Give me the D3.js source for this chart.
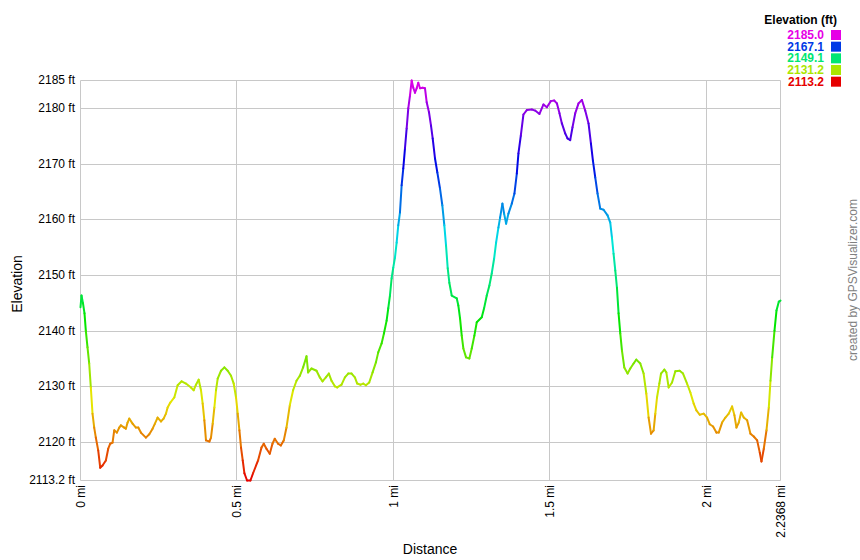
<!DOCTYPE html>
<html><head><meta charset="utf-8">
<script src="https://cdn.jsdelivr.net/npm/d3@7"></script>
<style>body{margin:0;background:#fff}svg{display:block;font-family:Arial,"Liberation Sans",sans-serif}</style>
</head><body><svg id="c" width="860" height="560"></svg>
<script>
const distance = [0, 0.0032, 0.008, 0.0128, 0.017, 0.0224, 0.0278, 0.033, 0.0384, 0.0438, 0.049, 0.0566, 0.063, 0.0704, 0.081, 0.0886, 0.095, 0.1024, 0.1078, 0.1162, 0.1238, 0.129, 0.1398, 0.145, 0.1504, 0.1558, 0.1664, 0.177, 0.1846, 0.193, 0.209, 0.2198, 0.2304, 0.2378, 0.2464, 0.257, 0.2656, 0.273, 0.2784, 0.287, 0.2998, 0.3104, 0.3232, 0.337, 0.353, 0.3616, 0.369, 0.3776, 0.385, 0.3904, 0.3958, 0.401, 0.4118, 0.417, 0.4224, 0.4278, 0.433, 0.4384, 0.449, 0.4598, 0.4704, 0.481, 0.4896, 0.497, 0.5024, 0.5078, 0.513, 0.5184, 0.5238, 0.5322, 0.543, 0.5514, 0.5674, 0.5782, 0.5856, 0.5942, 0.6048, 0.6134, 0.6208, 0.6314, 0.64, 0.6496, 0.6582, 0.6688, 0.6794, 0.6902, 0.7008, 0.7114, 0.7222, 0.7274, 0.7382, 0.7542, 0.7648, 0.7734, 0.784, 0.7936, 0.8022, 0.8128, 0.8202, 0.8342, 0.8448, 0.8554, 0.8662, 0.8768, 0.8842, 0.895, 0.9034, 0.912, 0.9226, 0.9334, 0.944, 0.9514, 0.9622, 0.9696, 0.9782, 0.9834, 0.9888, 0.9942, 0.9994, 1.0048, 1.0102, 1.0154, 1.0208, 1.0262, 1.0314, 1.0368, 1.0422, 1.0474, 1.0528, 1.0582, 1.0634, 1.0688, 1.0742, 1.0794, 1.0848, 1.0934, 1.1008, 1.1062, 1.1136, 1.12, 1.1254, 1.1328, 1.1402, 1.1488, 1.1562, 1.1626, 1.168, 1.1734, 1.1786, 1.1862, 1.2022, 1.2074, 1.2128, 1.2182, 1.2234, 1.232, 1.2426, 1.2502, 1.2586, 1.2662, 1.2822, 1.2896, 1.2982, 1.3066, 1.3142, 1.3216, 1.328, 1.3354, 1.3408, 1.3482, 1.3536, 1.36, 1.3674, 1.3782, 1.3866, 1.3942, 1.3994, 1.407, 1.4154, 1.4262, 1.4422, 1.4528, 1.4666, 1.4794, 1.4902, 1.503, 1.5136, 1.5222, 1.5306, 1.5382, 1.5488, 1.5562, 1.5648, 1.5722, 1.5808, 1.5914, 1.6022, 1.6128, 1.6234, 1.631, 1.6374, 1.6448, 1.6522, 1.6608, 1.6714, 1.6842, 1.6928, 1.6982, 1.7034, 1.7088, 1.7142, 1.7194, 1.7248, 1.7302, 1.7376, 1.7482, 1.7568, 1.7674, 1.776, 1.7888, 1.7994, 1.808, 1.8154, 1.823, 1.8314, 1.8368, 1.8422, 1.8496, 1.855, 1.8656, 1.872, 1.8794, 1.8902, 1.9008, 1.9146, 1.9254, 1.9382, 1.9488, 1.9594, 1.968, 1.9786, 1.9914, 2.0022, 2.0106, 2.0214, 2.032, 2.0394, 2.0502, 2.0608, 2.0714, 2.0822, 2.0896, 2.096, 2.1034, 2.111, 2.1194, 2.1302, 2.1408, 2.1514, 2.1622, 2.1706, 2.176, 2.1834, 2.192, 2.1994, 2.2048, 2.2102, 2.2176, 2.224, 2.2314, 2.2368];

const elevation = [2144.3, 2146.4, 2145.0, 2143.2, 2140.1, 2137.1, 2134.2, 2129.9, 2125.2, 2122.7, 2120.9, 2118.6, 2115.5, 2115.9, 2116.8, 2118.9, 2119.8, 2120.0, 2122.2, 2121.8, 2122.7, 2123.1, 2122.7, 2122.5, 2123.6, 2124.3, 2123.4, 2122.7, 2122.7, 2121.8, 2120.9, 2121.5, 2122.5, 2123.4, 2124.5, 2123.8, 2124.3, 2125.2, 2126.3, 2127.2, 2128.1, 2130.3, 2131.0, 2130.6, 2129.9, 2129.4, 2130.4, 2131.3, 2129.4, 2127.0, 2124.0, 2120.4, 2120.2, 2120.9, 2123.4, 2126.3, 2129.4, 2131.5, 2132.9, 2133.5, 2132.9, 2132.0, 2130.6, 2128.1, 2125.2, 2122.2, 2119.1, 2116.8, 2114.5, 2113.2, 2113.2, 2114.5, 2116.8, 2119.1, 2119.8, 2118.9, 2118.0, 2119.8, 2120.7, 2119.8, 2119.5, 2120.4, 2122.7, 2126.7, 2129.4, 2131.1, 2132.0, 2133.5, 2135.5, 2132.6, 2133.3, 2132.9, 2131.7, 2131.0, 2131.7, 2132.4, 2131.1, 2130.1, 2129.9, 2130.4, 2131.7, 2132.4, 2132.4, 2131.7, 2130.6, 2130.4, 2130.6, 2130.3, 2130.8, 2132.6, 2134.4, 2136.2, 2137.8, 2139.6, 2141.9, 2144.1, 2146.4, 2149.5, 2151.4, 2153.2, 2155.9, 2159.0, 2161.3, 2166.2, 2169.2, 2172.8, 2176.4, 2180.0, 2182.3, 2185.0, 2183.7, 2182.8, 2183.6, 2184.6, 2183.6, 2183.7, 2183.6, 2181.1, 2179.3, 2176.9, 2174.6, 2171.0, 2168.5, 2165.6, 2162.6, 2159.0, 2155.4, 2151.3, 2148.7, 2146.4, 2145.9, 2144.6, 2142.3, 2139.2, 2136.9, 2135.3, 2135.1, 2136.9, 2139.2, 2141.6, 2142.5, 2144.1, 2146.4, 2148.2, 2150.4, 2153.0, 2155.9, 2158.6, 2160.4, 2162.9, 2161.1, 2159.3, 2161.1, 2162.9, 2164.7, 2168.3, 2171.9, 2175.1, 2178.9, 2179.7, 2179.8, 2179.6, 2179.0, 2180.7, 2180.2, 2181.3, 2181.4, 2180.9, 2179.1, 2177.3, 2175.5, 2174.6, 2174.3, 2176.6, 2179.1, 2180.9, 2181.5, 2179.6, 2177.3, 2173.7, 2170.6, 2167.6, 2164.7, 2162.0, 2161.8, 2160.8, 2159.5, 2156.8, 2153.9, 2150.9, 2147.8, 2143.2, 2139.6, 2136.5, 2133.5, 2132.4, 2133.3, 2134.2, 2134.9, 2134.2, 2132.4, 2128.8, 2124.5, 2121.6, 2122.2, 2125.2, 2128.1, 2130.6, 2132.4, 2133.1, 2132.6, 2129.9, 2130.8, 2132.8, 2132.9, 2132.4, 2130.6, 2129.0, 2127.0, 2125.8, 2125.0, 2125.2, 2124.5, 2123.3, 2122.9, 2121.8, 2121.8, 2123.6, 2124.5, 2125.2, 2126.5, 2124.9, 2122.7, 2123.6, 2125.4, 2124.5, 2124.0, 2121.6, 2121.1, 2120.4, 2118.2, 2116.6, 2118.9, 2122.2, 2126.3, 2131.1, 2135.3, 2140.1, 2143.7, 2145.3, 2145.5];

const yTicks = [2185, 2180, 2170, 2160, 2150, 2140, 2130, 2120, 2113.2];
const xTicks = [0, 0.5, 1, 1.5, 2, 2.2368];
const legendValues = [2185.0, 2167.1, 2149.1, 2131.2, 2113.2];
const legendTitle = "Elevation (ft)";
const yTitle = "Elevation";
const xTitle = "Distance";
const credit = "created by GPSVisualizer.com";

const svg = d3.select("#c");
const eMin = 2113.2, eMax = 2185, dMax = 2.2368;
const x = d3.scaleLinear().domain([0, dMax]).range([80.5, 780.5]);
const y = d3.scaleLinear().domain([eMin, eMax]).range([480.5, 80.5]);
const hue = d3.scaleLinear().domain([eMin, eMax]).range([0, 300]);
const color = e => d3.hsl(hue(e), 1, 0.45).formatHex();

// grid
const g = svg.append("g");
g.selectAll("line.h").data(yTicks).join("line")
  .attr("x1", 80.5).attr("x2", 780.5)
  .attr("y1", d => Math.round(y(d) - 0.5) + 0.5).attr("y2", d => Math.round(y(d) - 0.5) + 0.5)
  .attr("stroke", "#c8c8c8").attr("stroke-width", 1);
g.selectAll("line.v").data(xTicks).join("line")
  .attr("y1", 80.5).attr("y2", 480.5)
  .attr("x1", d => Math.round(x(d) - 0.5) + 0.5).attr("x2", d => Math.round(x(d) - 0.5) + 0.5)
  .attr("stroke", "#c8c8c8").attr("stroke-width", 1);

// y tick labels
svg.append("g").selectAll("text").data(yTicks).join("text")
  .attr("x", 75).attr("y", d => y(d) + 3.5)
  .attr("text-anchor", "end").attr("font-size", "12px").attr("fill", "#000")
  .text(d => d + " ft");

// x tick labels
svg.append("g").selectAll("text").data(xTicks).join("text")
  .attr("transform", d => `translate(${x(d)},485) rotate(-90)`)
  .attr("dy", "0.35em").attr("text-anchor", "end").attr("font-size", "12px").attr("fill", "#000")
  .text(d => d + " mi");

// profile line as coloured segments
const pts = d3.zip(distance, elevation);
const segs = d3.pairs(pts);
svg.append("g").selectAll("line").data(segs).join("line")
  .attr("x1", d => x(d[0][0])).attr("y1", d => y(d[0][1]))
  .attr("x2", d => x(d[1][0])).attr("y2", d => y(d[1][1]))
  .attr("stroke", d => color((d[0][1] + d[1][1]) / 2))
  .attr("stroke-width", 2).attr("stroke-linecap", "round");

// titles
svg.append("text").attr("x", 430).attr("y", 554).attr("text-anchor", "middle")
  .attr("font-size", "14px").text(xTitle);
svg.append("text").attr("transform", "translate(17,284) rotate(-90)").attr("dy", "0.35em")
  .attr("text-anchor", "middle").attr("font-size", "14px").text(yTitle);
svg.append("text").attr("transform", "translate(853,280) rotate(-90)").attr("dy", "0.35em")
  .attr("text-anchor", "middle").attr("font-size", "12px").attr("fill", "#808080").text(credit);

// legend
svg.append("text").attr("x", 837).attr("y", 24).attr("text-anchor", "end")
  .attr("font-size", "12px").attr("font-weight", "bold").text(legendTitle);
const lg = svg.append("g").selectAll("g").data(legendValues).join("g");
lg.append("rect").attr("x", 831).attr("y", (d, i) => 30 + i * 11.67)
  .attr("width", 10).attr("height", 10).attr("fill", d => color(d));
lg.append("text").attr("x", 824).attr("y", (d, i) => 39 + i * 11.67)
  .attr("text-anchor", "end").attr("font-size", "12px").attr("font-weight", "bold")
  .attr("fill", d => color(d)).text(d => d.toFixed(1));
</script>
</body></html>
